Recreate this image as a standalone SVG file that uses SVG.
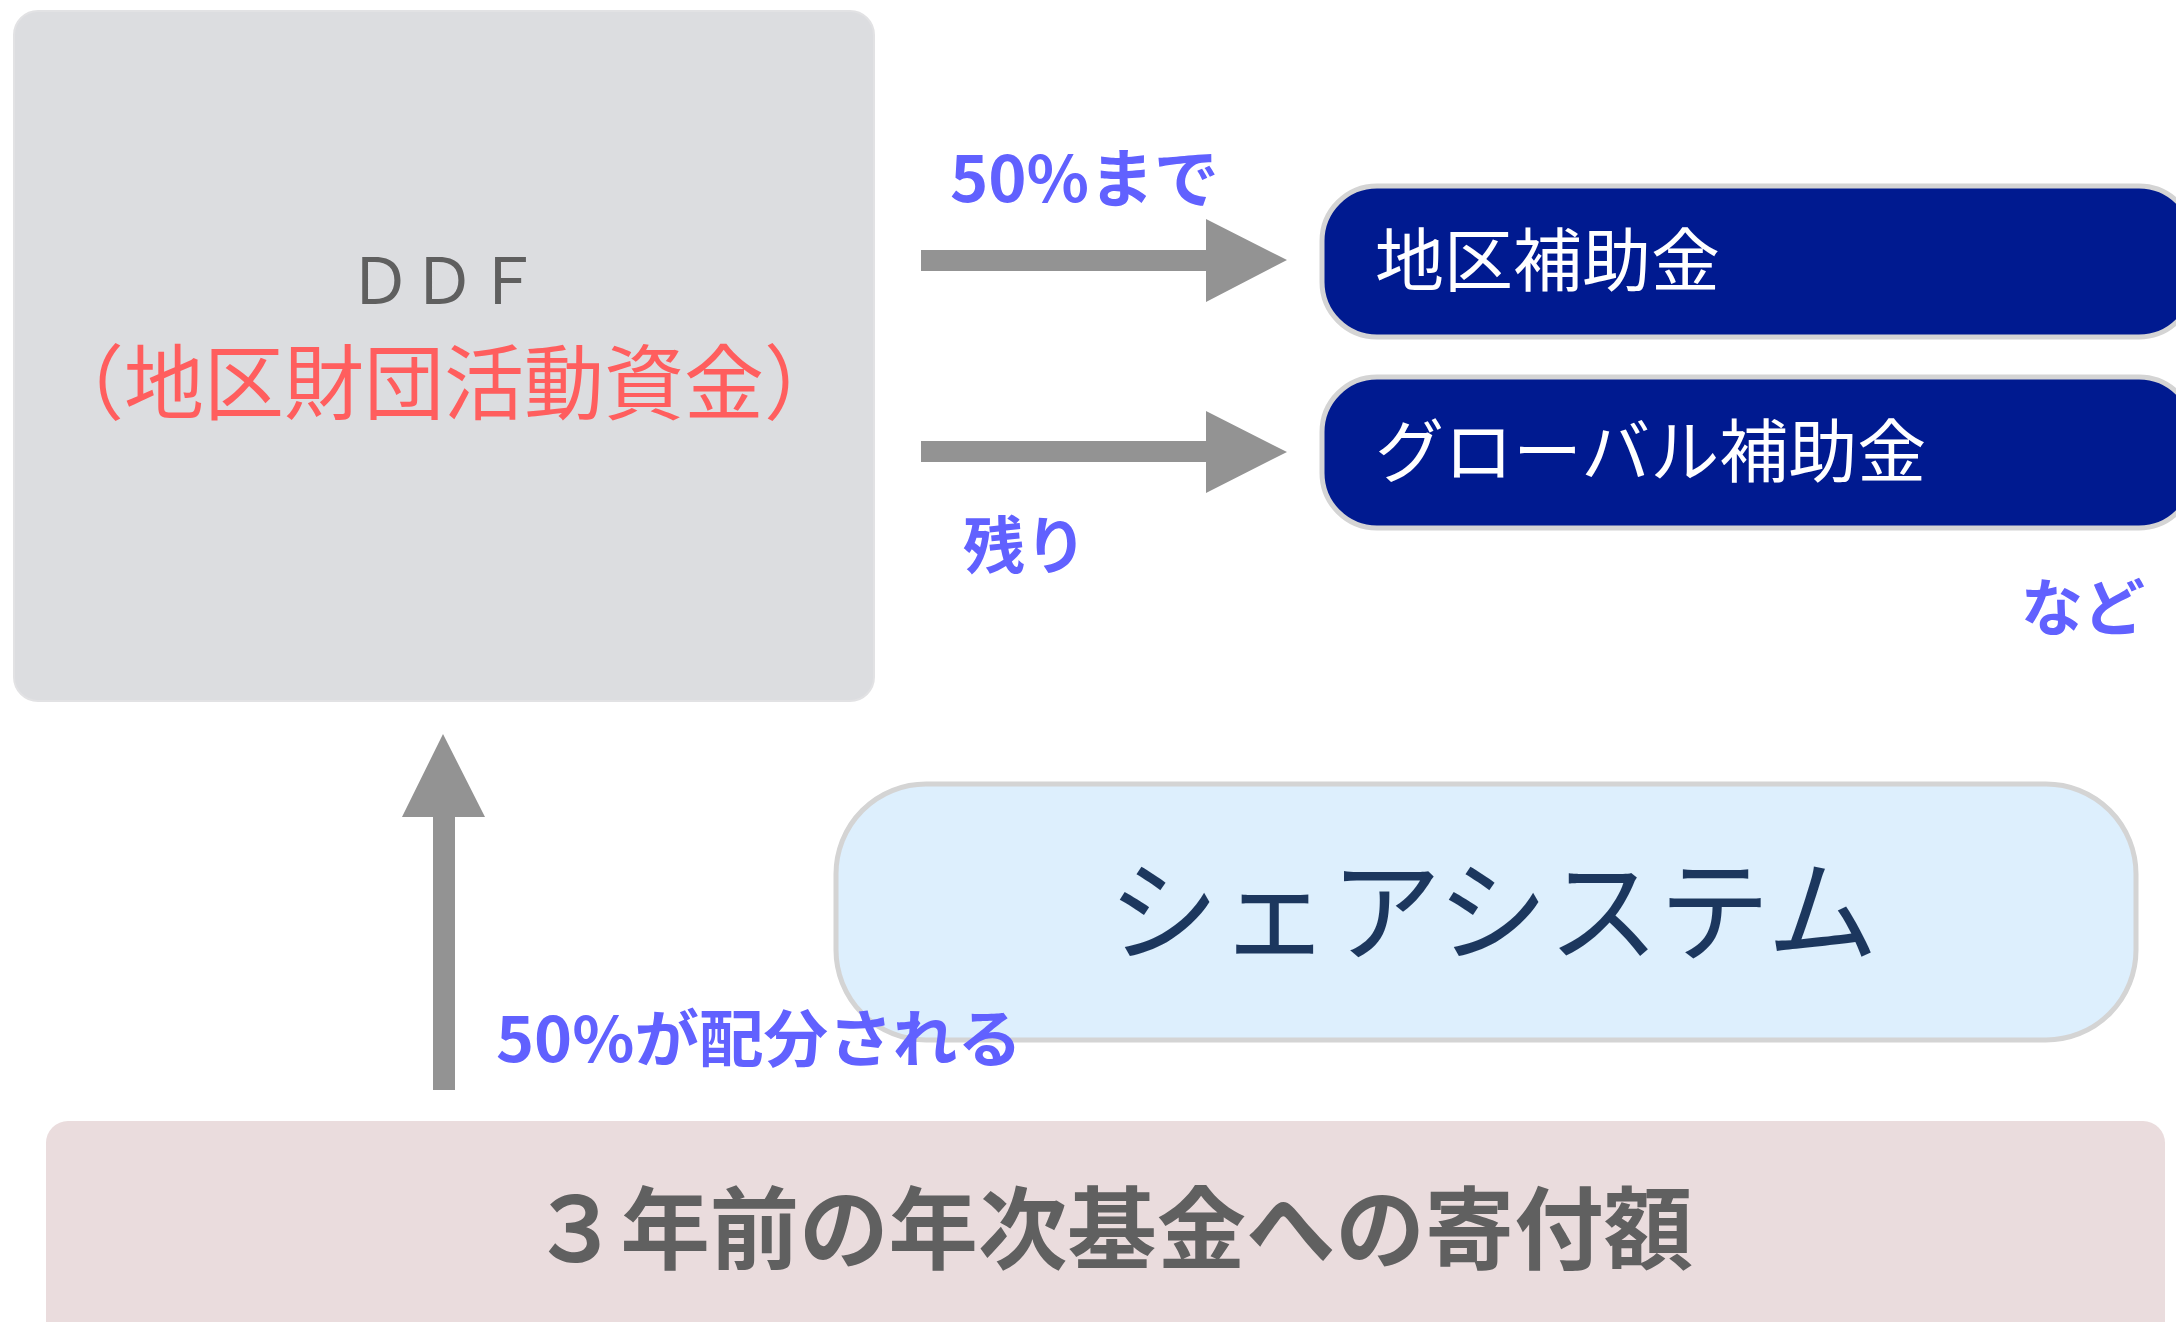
<svg xmlns="http://www.w3.org/2000/svg" width="2176" height="1322" viewBox="0 0 2176 1322">
<style>
text{font-family:"Noto Sans CJK JP","Noto Sans",sans-serif}
.lbl{fill:#6161ff;font-weight:700}
.grant{fill:#ffffff;font-size:69px}
.gbox{fill:#001a90;stroke:#d4d4d4;stroke-width:5}
.arr{fill:#939393}
</style>
<rect width="2176" height="1322" fill="#ffffff"/>
<g id="ddf">
<rect x="14" y="11" width="860" height="690" rx="24" fill="#dcdde0" stroke="#e2e2e4" stroke-width="2"/>
<text x="444" y="304" text-anchor="middle" font-size="64" fill="#5f5f5f">ＤＤＦ</text>
<text x="444" y="413" text-anchor="middle" font-size="82" fill="#ff5e5e" textLength="800" lengthAdjust="spacingAndGlyphs">（地区財団活動資金）</text>
</g>
<g id="district-grant">
<rect class="gbox" x="1322" y="186" width="872" height="151" rx="55"/>
<text class="grant" x="1375" y="286">地区補助金</text>
</g>
<g id="global-grant">
<rect class="gbox" x="1322" y="377" width="872" height="151" rx="55"/>
<text class="grant" x="1375" y="477">グローバル補助金</text>
</g>
<g id="share-system">
<rect x="836" y="784" width="1300" height="256" rx="90" fill="#ddeffd" stroke="#d4d4d4" stroke-width="5"/>
<text x="1493" y="953" text-anchor="middle" font-size="112" fill="#1c375e" textLength="770" lengthAdjust="spacingAndGlyphs">シェアシステム</text>
</g>
<g id="annual-fund">
<rect x="46" y="1121" width="2119" height="230" rx="22" fill="#eadcdd"/>
<text x="1112" y="1262" text-anchor="middle" font-size="90" font-weight="700" fill="#606060" textLength="1162" lengthAdjust="spacingAndGlyphs">３年前の年次基金への寄付額</text>
</g>
<g id="connectors">
<polygon class="arr" points="921,250 1206,250 1206,219 1287,260 1206,302 1206,271 921,271"/>
<polygon class="arr" points="921,441 1206,441 1206,411 1287,452 1206,493 1206,462 921,462"/>
<polygon class="arr" points="433,1090 433,817 402,817 443,734 485,817 455,817 455,1090"/>
</g>
<g id="labels">
<text class="lbl" x="950" y="202" font-size="64" textLength="269" lengthAdjust="spacingAndGlyphs">50%まで</text>
<text class="lbl" x="963" y="569" font-size="62">残り</text>
<text class="lbl" x="2021" y="631" font-size="62">など</text>
<text class="lbl" x="496" y="1062" font-size="62" textLength="526" lengthAdjust="spacingAndGlyphs">50%が配分される</text>
</g>
</svg>
